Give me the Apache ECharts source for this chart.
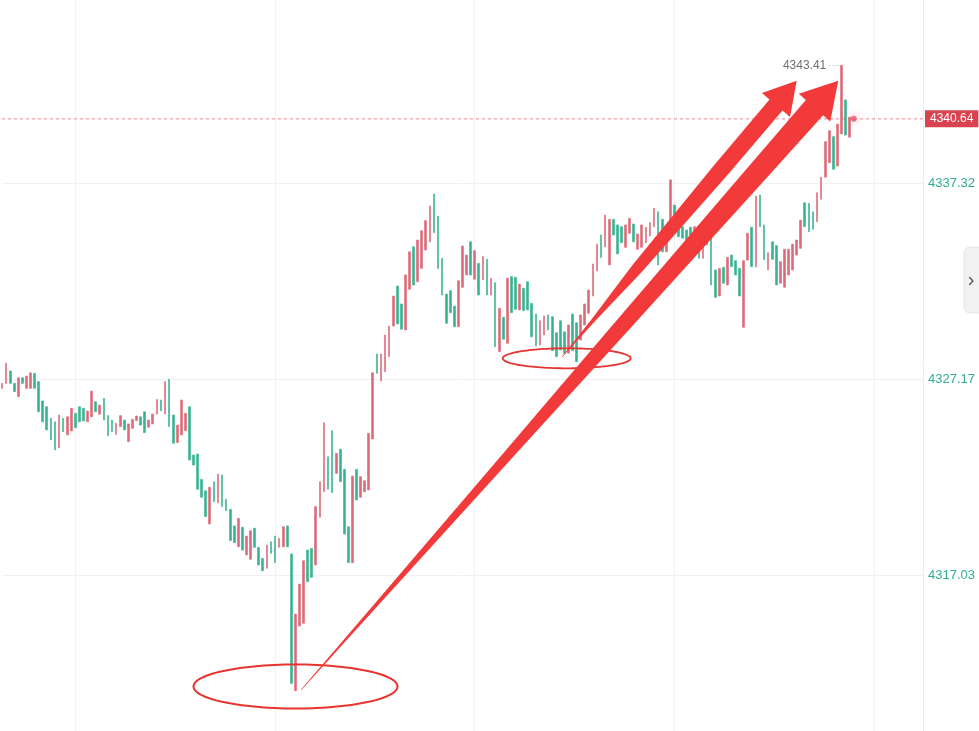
<!DOCTYPE html>
<html><head><meta charset="utf-8">
<script src="https://cdn.jsdelivr.net/npm/echarts@6/dist/echarts.min.js"></script>
<style>html,body{margin:0;padding:0;background:#fff;overflow:hidden}#c{width:979px;height:731px}</style>
</head><body><div id="c"></div>
<script>
// ---- data ----
const opens = [
4326.69,4326.95,4327.59,4326.95,4326.26,4327.24,4326.69,4326.69,4327.47,4327.04,
4326.04,4325.74,4325.14,4324.96,4323.62,4325.14,4324.28,4324.48,4325.40,4325.74,
4325.66,4324.96,4325.22,4326.00,4325.35,4326.18,4325.28,4325.05,4324.31,4324.71,
4325.05,4323.93,4324.62,4325.02,4325.22,4325.48,4324.68,4324.85,4325.36,4326.09,
4325.36,4327.16,4325.31,4323.88,4324.28,4324.50,4325.74,4323.24,4323.29,4321.98,
4321.39,4319.67,4321.86,4320.77,4322.21,4320.95,4320.43,4319.57,4318.49,4319.50,
4318.07,4317.84,4319.45,4318.46,4317.89,4317.38,4318.75,4319.05,4318.46,4318.49,
4319.57,4318.12,4311.04,4314.39,4314.53,4318.32,4318.41,4317.55,4320.02,4321.34,
4323.15,4324.50,4322.29,4323.54,4322.50,4319.53,4317.67,4322.50,4321.05,4321.34,
4321.43,4324.07,4328.47,4327.07,4327.55,4328.33,4329.92,4331.99,4331.06,4329.71,
4331.82,4334.02,4332.21,4332.90,4333.85,4334.28,4336.75,4335.61,4333.42,4331.57,
4331.75,4330.95,4329.88,4331.92,4332.56,4334.28,4332.34,4333.16,4332.30,4333.37,
4331.52,4332.16,4328.59,4330.37,4329.02,4332.47,4332.44,4330.75,4331.87,4332.21,
4331.09,4330.54,4328.93,4329.45,4330.49,4330.40,4329.57,4330.19,4329.62,4328.51,
4330.54,4330.09,4329.19,4329.97,4330.58,4331.47,4332.77,4334.63,4334.02,4333.08,
4335.44,4335.15,4335.06,4333.99,4334.72,4335.20,4333.89,4333.99,4334.23,4334.58,
4335.06,4335.83,4335.44,4333.76,4334.98,4336.18,4335.15,4335.06,4334.89,4335.03,
4334.37,4334.37,4333.42,4334.54,4334.46,4332.82,4331.47,4332.96,4332.04,4333.59,
4333.30,4332.90,4329.85,4333.33,4335.03,4332.97,4336.70,4335.15,4332.84,4334.28,
4334.08,4332.13,4331.92,4332.56,4332.82,4333.59,4333.94,4336.30,4336.27,4335.83,
4335.32,4336.48,4337.62,4338.37,4339.72,4338.20,4339.86,4341.62,4339.69,4340.58
];
const closes = [
4326.95,4327.99,4326.95,4326.52,4327.24,4326.95,4327.33,4327.49,4326.69,4325.48,
4324.96,4324.54,4324.02,4323.50,4325.31,4324.45,4325.22,4325.66,4324.65,4324.96,
4325.00,4325.52,4326.55,4325.48,4325.83,4325.05,4324.24,4324.45,4324.88,4325.28,
4324.54,4324.85,4325.09,4325.26,4324.79,4324.40,4325.05,4325.36,4326.12,4325.53,
4327.04,4324.71,4323.85,4324.79,4326.09,4325.40,4322.98,4322.72,4321.47,4321.05,
4320.05,4321.57,4320.82,4322.26,4320.57,4320.36,4318.81,4318.70,4319.96,4318.32,
4319.05,4319.32,4318.46,4317.55,4317.25,4318.58,4318.15,4317.67,4318.93,4319.53,
4318.49,4311.42,4315.01,4316.56,4317.77,4316.68,4316.91,4320.57,4321.86,4324.91,
4321.47,4321.29,4323.33,4321.86,4319.15,4317.67,4322.15,4320.91,4322.12,4321.91,
4324.36,4327.50,4327.47,4328.47,4329.45,4329.92,4331.47,4330.02,4329.75,4332.56,
4333.76,4332.04,4334.37,4334.85,4335.37,4336.13,4334.75,4332.90,4331.52,4330.06,
4330.61,4329.88,4332.26,4334.06,4333.59,4332.56,4333.82,4331.52,4333.51,4331.52,
4332.39,4328.85,4330.83,4329.23,4332.39,4330.61,4330.78,4332.09,4330.71,4330.75,
4329.36,4328.88,4330.19,4330.44,4329.71,4328.64,4328.33,4328.68,4328.51,4329.97,
4328.64,4328.07,4330.49,4331.06,4331.78,4333.13,4334.16,4333.47,4335.66,4335.44,
4334.63,4333.65,4334.23,4335.15,4335.49,4334.28,4334.68,4335.15,4335.03,4335.27,
4336.01,4333.08,4333.76,4334.72,4337.48,4334.89,4334.54,4334.46,4334.28,4334.54,
4335.06,4333.42,4334.11,4334.11,4332.04,4331.40,4332.90,4332.13,4333.47,4332.99,
4332.56,4331.47,4333.30,4334.72,4332.99,4336.65,4335.06,4333.36,4333.71,4333.37,
4332.04,4333.25,4333.89,4333.89,4334.16,4334.37,4335.40,4335.06,4334.80,4334.92,
4336.82,4337.62,4339.46,4340.03,4338.03,4340.37,4343.41,4339.80,4340.72,4340.64
];
const slotCount = 227;               // candle slots on the time axis (incl. empty right margin)
const yMin = 4306.8851, yStep = 10.1449, yMax = 4347.4647;
const lastPrice = 4340.64;
const highPrice = 4343.41;
const highIndex = 206;
const gridLineEvery = 49, gridLineFirst = 18;

// ---- build ----
const RED = '#dd6a78', GREEN = '#37b392';
const FONT = 'Liberation Sans, Arial, sans-serif';
const categories = Array.from({length: slotCount}, (_, i) => String(i));
const candles = opens.map((o, i) => {
  const c = closes[i];
  return [o, c, Math.min(o, c), Math.max(o, c)];
});

function ellipsePts(cx, cy, rx, ry) {
  const pts = [];
  for (let k = 0; k < 120; k++) {
    const a = k / 120 * Math.PI * 2;
    pts.push([cx + rx * Math.cos(a), cy + ry * Math.sin(a)]);
  }
  return pts;
}
function arrowPts(s, t, profile, headLen, headW) {
  const dx = t[0] - s[0], dy = t[1] - s[1], L = Math.hypot(dx, dy);
  const ux = dx / L, uy = dy / L, nx = -uy, ny = ux;
  const sl = L - headLen;
  const left = [], right = [];
  profile.forEach(([f, w]) => {
    const px = s[0] + ux * sl * f, py = s[1] + uy * sl * f;
    left.push([px + nx * w / 2, py + ny * w / 2]);
    right.push([px - nx * w / 2, py - ny * w / 2]);
  });
  const bx = s[0] + ux * sl, by = s[1] + uy * sl;
  return left.concat([[bx + nx * headW / 2, by + ny * headW / 2], t, [bx - nx * headW / 2, by - ny * headW / 2]], right.reverse());
}

const chart = echarts.init(document.getElementById('c'), null, {renderer: 'canvas'});
const ARROW = '#f33a3a', ELL = '#e8342f';
chart.setOption({
  animation: false,
  backgroundColor: '#fff',
  grid: {left: 2, right: 56, top: -13, height: 784, containLabel: false, outerBoundsMode: 'none'},
  xAxis: {
    type: 'category', data: categories, boundaryGap: false,
    axisLine: {show: false}, axisTick: {show: false}, axisLabel: {show: false},
    splitLine: {show: true, interval: (idx) => idx >= gridLineFirst && (idx - gridLineFirst) % gridLineEvery === 0,
      lineStyle: {color: '#f2f2f2', width: 1}}
  },
  yAxis: {
    type: 'value', position: 'right', min: yMin, max: yMax, interval: yStep,
    axisLine: {show: true, lineStyle: {color: '#ececec'}},
    axisTick: {show: false},
    axisLabel: {color: '#2fae8f', fontSize: 13, margin: 5, fontFamily: FONT,
      showMinLabel: false, showMaxLabel: false,
      formatter: (v) => v.toFixed(2)},
    splitLine: {show: true, lineStyle: {color: '#f1f1f1', width: 1}}
  },
  series: [{
    type: 'line', data: [[0, lastPrice], [slotCount - 1, lastPrice]], showSymbol: false, symbol: 'none',
    silent: true, z: 1,
    lineStyle: {type: [3, 3], color: '#ee8591', width: 1},
    endLabel: {show: true, distance: 2, formatter: () => lastPrice.toFixed(2), color: '#fff',
      backgroundColor: '#d9434f', padding: [3, 5, 2, 5], fontSize: 12, fontFamily: FONT}
  }, {
    type: 'candlestick', data: candles, barWidth: 2.2, clip: false, z: 3,
    itemStyle: {color: RED, color0: GREEN, borderColor: RED, borderColor0: GREEN, borderWidth: 0.6}
  }, {
    type: 'scatter', data: [[opens.length - 1, lastPrice]], symbolSize: 6, z: 5,
    itemStyle: {color: '#e25b6b', shadowBlur: 8, shadowColor: 'rgba(226,91,107,0.8)'},
    markLine: {
      silent: true, symbol: ['none', 'none'], animation: false,
      lineStyle: {type: [1, 2], color: '#b5b5b5', width: 1},
      label: {show: true, position: 'start', distance: 3, formatter: highPrice.toFixed(2), color: '#6f6f6f',
        fontSize: 12, fontFamily: FONT},
      data: [[{coord: [highIndex - 3, highPrice]}, {coord: [highIndex, highPrice]}]]
    }
  }],
  graphic: [
    {type: 'polygon', z: 100, shape: {points: ellipsePts(295.5, 686.5, 102, 22)}, style: {fill: 'none', stroke: ELL, lineWidth: 2}},
    {type: 'polygon', z: 100, shape: {points: ellipsePts(566.7, 358.3, 64, 10)}, style: {fill: 'none', stroke: ELL, lineWidth: 1.8}},
    {type: 'polygon', z: 101, shape: {points: arrowPts([301, 690], [838.3, 80.7],
      [[0, 0.4], [0.155, 4], [0.41, 10], [0.61, 15], [0.89, 21], [1, 23]], 36, 42)}, style: {fill: ARROW}},
    {type: 'polygon', z: 101, shape: {points: arrowPts([562, 357], [796.7, 80.7],
      [[0, 0.4], [0.15, 4], [0.35, 11.5], [0.74, 16.5], [1, 17]], 32, 37)}, style: {fill: ARROW}},
    {type: 'rect', z: 100, shape: {x: 964, y: 247, width: 22, height: 66, r: 6}, style: {fill: '#f1f1f1', stroke: '#e4e4e4', lineWidth: 1}},
    {type: 'text', z: 101, x: 971, y: 280, style: {text: '›', fill: '#555', font: '20px Liberation Sans, Arial', align: 'center', verticalAlign: 'middle'}}
  ]
});
</script>
</body></html>
